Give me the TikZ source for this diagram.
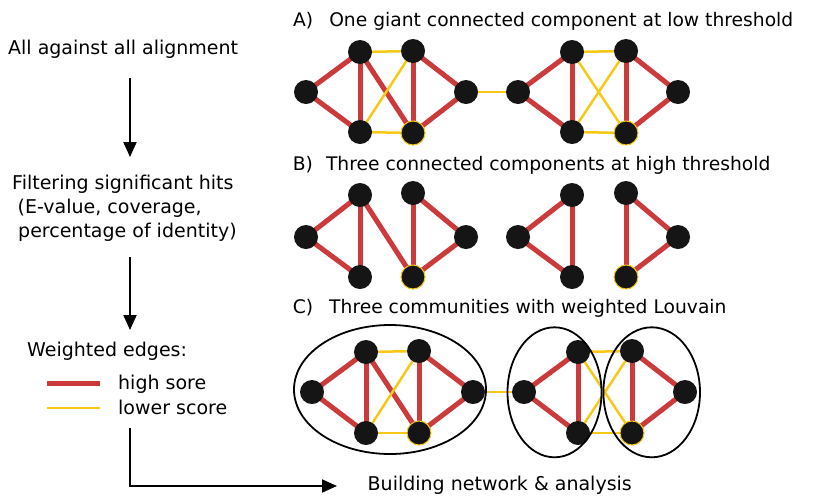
\documentclass[tikz,border=0pt]{standalone}
\usepackage{fontspec}
\setmainfont{DejaVu Sans}
\usetikzlibrary{arrows.meta,backgrounds}
\definecolor{nodeblk}{HTML}{151515}
\definecolor{hired}{HTML}{CB3B3B}
\definecolor{loyel}{HTML}{F7C816}
\tikzset{
  vert/.style={circle,fill=nodeblk,inner sep=0pt,minimum size=24pt},
  yvert/.style={vert,draw=loyel,line width=1pt},
  hi/.style={draw=hired,line width=5pt},
  lo/.style={draw=loyel,line width=2.5pt},
  lbl/.style={inner sep=0pt,anchor=base west,font=\fontsize{19}{24}\selectfont},
  ttl/.style={lbl,font=\fontsize{18.7}{24}\selectfont},
  flow/.style={draw=black,line width=2pt,-{Triangle[length=15pt,width=13pt]}},
  comm/.style={draw=black,line width=1.8pt},
}
\begin{document}
\begin{tikzpicture}[x=1pt,y=-1pt]
\useasboundingbox (0,0) rectangle (813,496);
% ---------- left column ----------
\node[lbl] (t0) at (8,54) {All against all alignment};
\node[lbl,anchor=north west,align=left] (t1) at (12,174.5) {Filtering significant hits\\\hspace*{5.5pt}(E-value, coverage,\\\hspace*{6pt}percentage of identity)};
\node[lbl] (t2) at (27,356) {Weighted edges:};
\node[lbl] (t3) at (118,389) {high sore};
\node[lbl] (t4) at (118,414) {lower score};
\draw[hi] (47,383) -- (100,383);
\draw[lo] (47,408) -- (100,408);
\coordinate (f1a) at (130,78);
\coordinate (f1b) at (130,157);
\coordinate (f2a) at (130,257);
\coordinate (f2b) at (130,330);
\coordinate (f3a) at (130,428);
\coordinate (f3b) at (337,486);
\draw[flow] (f1a) -- (f1b);
\draw[flow] (f2a) -- (f2b);
\draw[flow] (f3a) |- (f3b);
\node[lbl] (t5) at (367.5,490) {Building network \& analysis};
% ---------- titles ----------
\node[ttl] (ta) at (293,26.7) {A)\hspace{16pt}One giant connected component at low threshold};
\node[ttl] (tb) at (292.7,170) {B)\hspace{13pt}Three connected components at high threshold};
\node[ttl] (tc) at (292.7,313) {C)\hspace{16pt}Three communities with weighted Louvain};
% ---------- graph A ----------
\node[vert] (aL1) at (306,92) {};
\node[vert] (aTL) at (360,52) {};
\node[vert] (aTR) at (413,51) {};
\node[vert] (aBL) at (360,132) {};
\node[yvert] (aBR) at (413,133) {};
\node[vert] (aR1) at (466,92) {};
\node[vert] (aL2) at (518,92) {};
\node[vert] (aTL2) at (572,52) {};
\node[vert] (aTR2) at (626,51) {};
\node[vert] (aBL2) at (572,132) {};
\node[yvert] (aBR2) at (626,133) {};
\node[vert] (aR2) at (678,92) {};
% ---------- graph B ----------
\node[vert] (bL1) at (306,237) {};
\node[vert] (bTL) at (360,195) {};
\node[vert] (bTR) at (413,193) {};
\node[vert] (bBL) at (360,277) {};
\node[yvert] (bBR) at (413,277) {};
\node[vert] (bR1) at (466,237) {};
\node[vert] (bL2) at (518,237) {};
\node[vert] (bTL2) at (572,195) {};
\node[vert] (bBL2) at (572,277) {};
\node[vert] (bTR2) at (626,193) {};
\node[yvert] (bBR2) at (626,277) {};
\node[vert] (bR2) at (678,237) {};
% ---------- graph C ----------
\node[vert] (cL1) at (312,392) {};
\node[vert] (cTL) at (366,352) {};
\node[vert] (cTR) at (419,351) {};
\node[vert] (cBL) at (366,433) {};
\node[yvert] (cBR) at (419,433) {};
\node[vert] (cR1) at (473,392) {};
\node[vert] (cL2) at (524,392) {};
\node[vert] (cTL2) at (578,352) {};
\node[vert] (cBL2) at (578,433) {};
\node[vert] (cTR2) at (632,351) {};
\node[yvert] (cBR2) at (632,433) {};
\node[vert] (cR2) at (685,392) {};
\begin{scope}[on background layer]
  \foreach \g in {a,c}{
    \draw[hi] (\g L1.center) -- (\g TL.center);
    \draw[hi] (\g L1.center) -- (\g BL.center);
    \draw[hi] (\g TL.center) -- (\g BL.center);
    \draw[hi] (\g TL.center) -- (\g BR.center);
    \draw[lo] (\g TL.center) -- (\g TR.center);
    \draw[lo] (\g BL.center) -- (\g TR.center);
    \draw[lo] (\g BL.center) -- (\g BR.center);
    \draw[hi] (\g TR.center) -- (\g BR.center);
    \draw[hi] (\g TR.center) -- (\g R1.center);
    \draw[hi] (\g BR.center) -- (\g R1.center);
    \draw[lo] (\g R1.center) -- (\g L2.center);
    \draw[hi] (\g L2.center) -- (\g TL2.center);
    \draw[hi] (\g L2.center) -- (\g BL2.center);
    \draw[hi] (\g TL2.center) -- (\g BL2.center);
    \draw[lo] (\g TL2.center) -- (\g TR2.center);
    \draw[lo] (\g TL2.center) -- (\g BR2.center);
    \draw[lo] (\g BL2.center) -- (\g TR2.center);
    \draw[lo] (\g BL2.center) -- (\g BR2.center);
    \draw[hi] (\g TR2.center) -- (\g BR2.center);
    \draw[hi] (\g TR2.center) -- (\g R2.center);
    \draw[hi] (\g BR2.center) -- (\g R2.center);
  }
  \draw[hi] (bL1.center) -- (bTL.center);
  \draw[hi] (bL1.center) -- (bBL.center);
  \draw[hi] (bTL.center) -- (bBL.center);
  \draw[hi] (bTL.center) -- (bBR.center);
  \draw[hi] (bTR.center) -- (bBR.center);
  \draw[hi] (bTR.center) -- (bR1.center);
  \draw[hi] (bBR.center) -- (bR1.center);
  \draw[hi] (bL2.center) -- (bTL2.center);
  \draw[hi] (bL2.center) -- (bBL2.center);
  \draw[hi] (bTL2.center) -- (bBL2.center);
  \draw[hi] (bTR2.center) -- (bBR2.center);
  \draw[hi] (bTR2.center) -- (bR2.center);
  \draw[hi] (bBR2.center) -- (bR2.center);
\end{scope}
% ---------- communities ----------
\draw[comm] (390,389.5) ellipse [x radius=96pt,y radius=64.5pt];
\draw[comm] (554.5,392.3) ellipse [x radius=47pt,y radius=65pt];
\draw[comm] (651.7,392.3) ellipse [x radius=48.3pt,y radius=65pt];
\end{tikzpicture}
\end{document}
